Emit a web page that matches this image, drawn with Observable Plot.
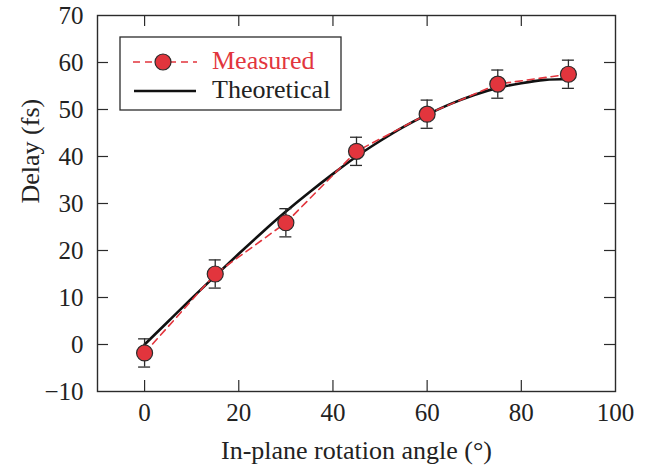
<!DOCTYPE html>
<html>
<head>
<meta charset="utf-8">
<script src="https://cdn.jsdelivr.net/npm/d3@7"></script>
<script src="https://cdn.jsdelivr.net/npm/@observablehq/plot@0.6"></script>
<style>
  html, body { margin: 0; padding: 0; background: #fff; }
  #chart svg { display: block; }
</style>
</head>
<body>
<div id="chart"></div>
<script>
// ---- data ----
const angles = [0, 15, 30, 45, 60, 75, 90];
const measured = [-1.8, 15.0, 25.9, 41.1, 49.0, 55.4, 57.5];
const errors = [3, 3, 3, 3, 3, 3, 3];

const theoryAngles = [0, 5, 10, 15, 20, 25, 30, 35, 40, 45, 50, 55, 60, 65, 70, 75, 80, 85, 90];
const theoryDelay = [0.0, 4.9, 9.8, 14.6, 19.3, 23.9, 28.3, 32.4, 36.3, 40.0, 43.3, 46.3, 48.9, 51.2, 53.1, 54.6, 55.6, 56.3, 56.5];

const xTicks = [0, 20, 40, 60, 80, 100];
const yTicks = [-10, 0, 10, 20, 30, 40, 50, 60, 70];

const seriesNames = ["Measured", "Theoretical"];
const xLabel = "In-plane rotation angle (°)";
const yLabel = "Delay (fs)";

// ---- styles ----
const RED = "#e2353d";
const INK = "#2b2b2b";
const FONT = "Liberation Serif, Times New Roman, serif";

const meas = angles.map((a, i) => ({x: a, y: measured[i], lo: measured[i] - errors[i], hi: measured[i] + errors[i]}));
const theo = theoryAngles.map((a, i) => ({x: a, y: theoryDelay[i]}));

const W = 650, H = 471;
const mL = 97, mT = 15, mR = 35, mB = 80;
const fw = W - mL - mR, fh = H - mT - mB;
const TICK = 11;

function legend(index, scales, values, dims) {
  const g = d3.create("svg:g").attr("font-family", FONT).attr("text-anchor", "start");
  g.append("rect").attr("x", 120).attr("y", 37).attr("width", 221).attr("height", 73)
    .attr("fill", "white").attr("stroke", INK).attr("stroke-width", 1.3);
  g.append("line").attr("x1", 133).attr("x2", 197).attr("y1", 62).attr("y2", 62)
    .attr("stroke", RED).attr("stroke-width", 1.6).attr("stroke-dasharray", "7,5");
  g.append("circle").attr("cx", 163).attr("cy", 62).attr("r", 8)
    .attr("fill", RED).attr("stroke", INK).attr("stroke-width", 1.2);
  g.append("text").attr("x", 212).attr("y", 69).attr("font-size", 26).attr("text-anchor", "start")
    .attr("fill", RED).text(seriesNames[0]);
  g.append("line").attr("x1", 134).attr("x2", 196).attr("y1", 91).attr("y2", 91)
    .attr("stroke", "#111").attr("stroke-width", 2.6);
  g.append("text").attr("x", 212).attr("y", 98).attr("font-size", 26).attr("text-anchor", "start")
    .attr("fill", "#222").text(seriesNames[1]);
  return g.node();
}

const chart = Plot.plot({
  width: W,
  height: H,
  marginLeft: mL,
  marginTop: mT,
  marginRight: mR,
  marginBottom: mB,
  style: {fontFamily: FONT, fontSize: "25px", color: "#222", background: "white"},
  x: {domain: [-10, 100]},
  y: {domain: [-10, 70]},
  marks: [
    // inward ticks
    Plot.ruleX(xTicks.slice(0, -1), {x: d => d, insetTop: fh - TICK, stroke: INK, strokeWidth: 1.2}),
    Plot.ruleX(xTicks.slice(0, -1), {x: d => d, insetBottom: fh - TICK, stroke: INK, strokeWidth: 1.2}),
    Plot.ruleY(yTicks.slice(1, -1), {y: d => d, insetRight: fw - TICK, stroke: INK, strokeWidth: 1.2}),
    Plot.ruleY(yTicks.slice(1, -1), {y: d => d, insetLeft: fw - TICK, stroke: INK, strokeWidth: 1.2}),
    Plot.frame({stroke: INK, strokeWidth: 1.4}),
    Plot.axisX({ticks: xTicks, tickSize: 0, tickPadding: 12, fontSize: 25, label: null, tickFormat: d => d < 0 ? "\u2212" + Math.abs(d) : String(d)}),
    Plot.axisY({ticks: yTicks, tickSize: 0, tickPadding: 14, fontSize: 25, label: null, tickFormat: d => d < 0 ? "\u2212" + Math.abs(d) : String(d)}),
    Plot.text([xLabel], {text: d => d, frameAnchor: "bottom", dy: 67, fontSize: 26, fill: "#222"}),
    Plot.text([yLabel], {text: d => d, frameAnchor: "left", dx: -67, rotate: -90, fontSize: 26, fill: "#222"}),
    // theoretical
    Plot.line(theo, {x: "x", y: "y", curve: "natural", stroke: "#111", strokeWidth: 2.6}),
    // measured
    Plot.line(meas, {x: "x", y: "y", stroke: RED, strokeWidth: 1.6, strokeDasharray: "7,5"}),
    Plot.ruleX(meas, {x: "x", y1: "lo", y2: "hi", stroke: INK, strokeWidth: 1.3}),
    Plot.ruleY(meas, {y: "hi", x1: "x", x2: "x", insetLeft: -6, insetRight: -6, stroke: INK, strokeWidth: 1.3}),
    Plot.ruleY(meas, {y: "lo", x1: "x", x2: "x", insetLeft: -6, insetRight: -6, stroke: INK, strokeWidth: 1.3}),
    Plot.dot(meas, {x: "x", y: "y", r: 8, fill: RED, stroke: INK, strokeWidth: 1.2}),
    legend
  ]
});
document.getElementById("chart").appendChild(chart);
</script>
</body>
</html>
